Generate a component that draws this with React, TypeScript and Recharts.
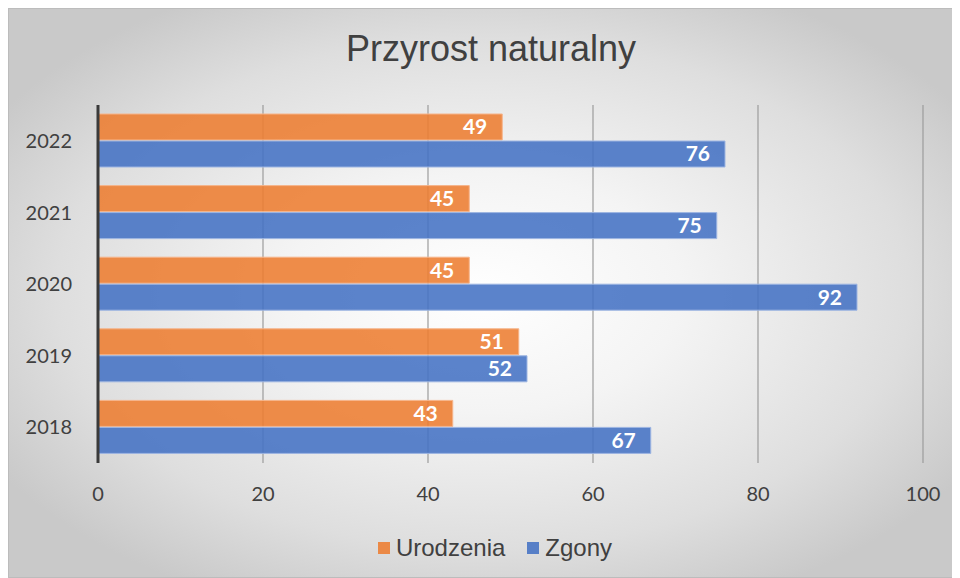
import React from "react";
import {
  BarChart,
  Bar,
  XAxis,
  YAxis,
  CartesianGrid,
  LabelList,
} from "recharts";

const years = ["2022", "2021", "2020", "2019", "2018"];
const births = [49, 45, 45, 51, 43];
const deaths = [76, 75, 92, 52, 67];
const xTicks = [0, 20, 40, 60, 80, 100];

const seriesNames = { births: "Urodzenia", deaths: "Zgony" };
const colors = { births: "#ED7D31", deaths: "#4472C4" };

const data = years.map((year, i) => ({
  year,
  births: births[i],
  deaths: deaths[i],
}));

const tickStyle = { fill: "#404040", fontSize: 20, fontFamily: "Lato" };

export default function App() {
  return (
    <div
      style={{
        position: "relative",
        width: 950,
        height: 570,
        boxSizing: "border-box",
        border: "1px solid #bcbcbc",
        background:
          "radial-gradient(ellipse 60% 60% at 50% 50%, #ffffff 0%, #f4f4f4 35%, #dedede 75%, #c9c9c9 100%)",
      }}
    >
      {/* Title */}
      <div
        style={{
          position: "absolute",
          left: 32,
          top: 22,
          width: 900,
          textAlign: "center",
          fontFamily: "Liberation Sans",
          fontSize: 36,
          lineHeight: "36px",
          color: "#404040",
        }}
      >
        Przyrost naturalny
      </div>

      <BarChart
        width={948}
        height={568}
        data={data}
        layout="vertical"
        margin={{ top: 96, right: 34, bottom: 84, left: 19 }}
        barSize={26}
        barGap={1}
      >
        <CartesianGrid horizontal={false} stroke="#9c9c9c" strokeWidth={1.2} />
        <XAxis
          type="number"
          domain={[0, 100]}
          ticks={xTicks}
          axisLine={false}
          tickLine={false}
          tickMargin={18}
          height={30}
          tick={tickStyle}
        />
        <YAxis
          type="category"
          dataKey="year"
          width={70}
          axisLine={{ stroke: "#3a3a3a", strokeWidth: 3 }}
          tickLine={false}
          tickMargin={20}
          tick={tickStyle}
        />
        <Bar
          dataKey="births"
          name={seriesNames.births}
          fill={colors.births}
          fillOpacity={0.88}
          stroke="#F6B48A"
          strokeWidth={1}
          isAnimationActive={false}
        >
          <LabelList
            dataKey="births"
            position="insideRight"
            offset={15}
            fill="#ffffff"
            style={{ fontFamily: "Lato", fontWeight: 700, fontSize: 21 }}
          />
        </Bar>
        <Bar
          dataKey="deaths"
          name={seriesNames.deaths}
          fill={colors.deaths}
          fillOpacity={0.88}
          stroke="#9DB5E2"
          strokeWidth={1}
          isAnimationActive={false}
        >
          <LabelList
            dataKey="deaths"
            position="insideRight"
            offset={15}
            fill="#ffffff"
            style={{ fontFamily: "Lato", fontWeight: 700, fontSize: 21 }}
          />
        </Bar>
      </BarChart>

      {/* Legend */}
      <div
        style={{
          position: "absolute",
          left: 0,
          width: 972,
          top: 525,
          display: "flex",
          justifyContent: "center",
          alignItems: "center",
          gap: 22,
          fontFamily: "Liberation Sans",
          fontSize: 24,
          color: "#404040",
        }}
      >
        {(["births", "deaths"] as const).map((k) => (
          <div key={k} style={{ display: "flex", alignItems: "center", gap: 6 }}>
            <span
              style={{
                display: "inline-block",
                width: 12,
                height: 12,
                background: colors[k],
                opacity: 0.88,
              }}
            />
            <span>{seriesNames[k]}</span>
          </div>
        ))}
      </div>
    </div>
  );
}
